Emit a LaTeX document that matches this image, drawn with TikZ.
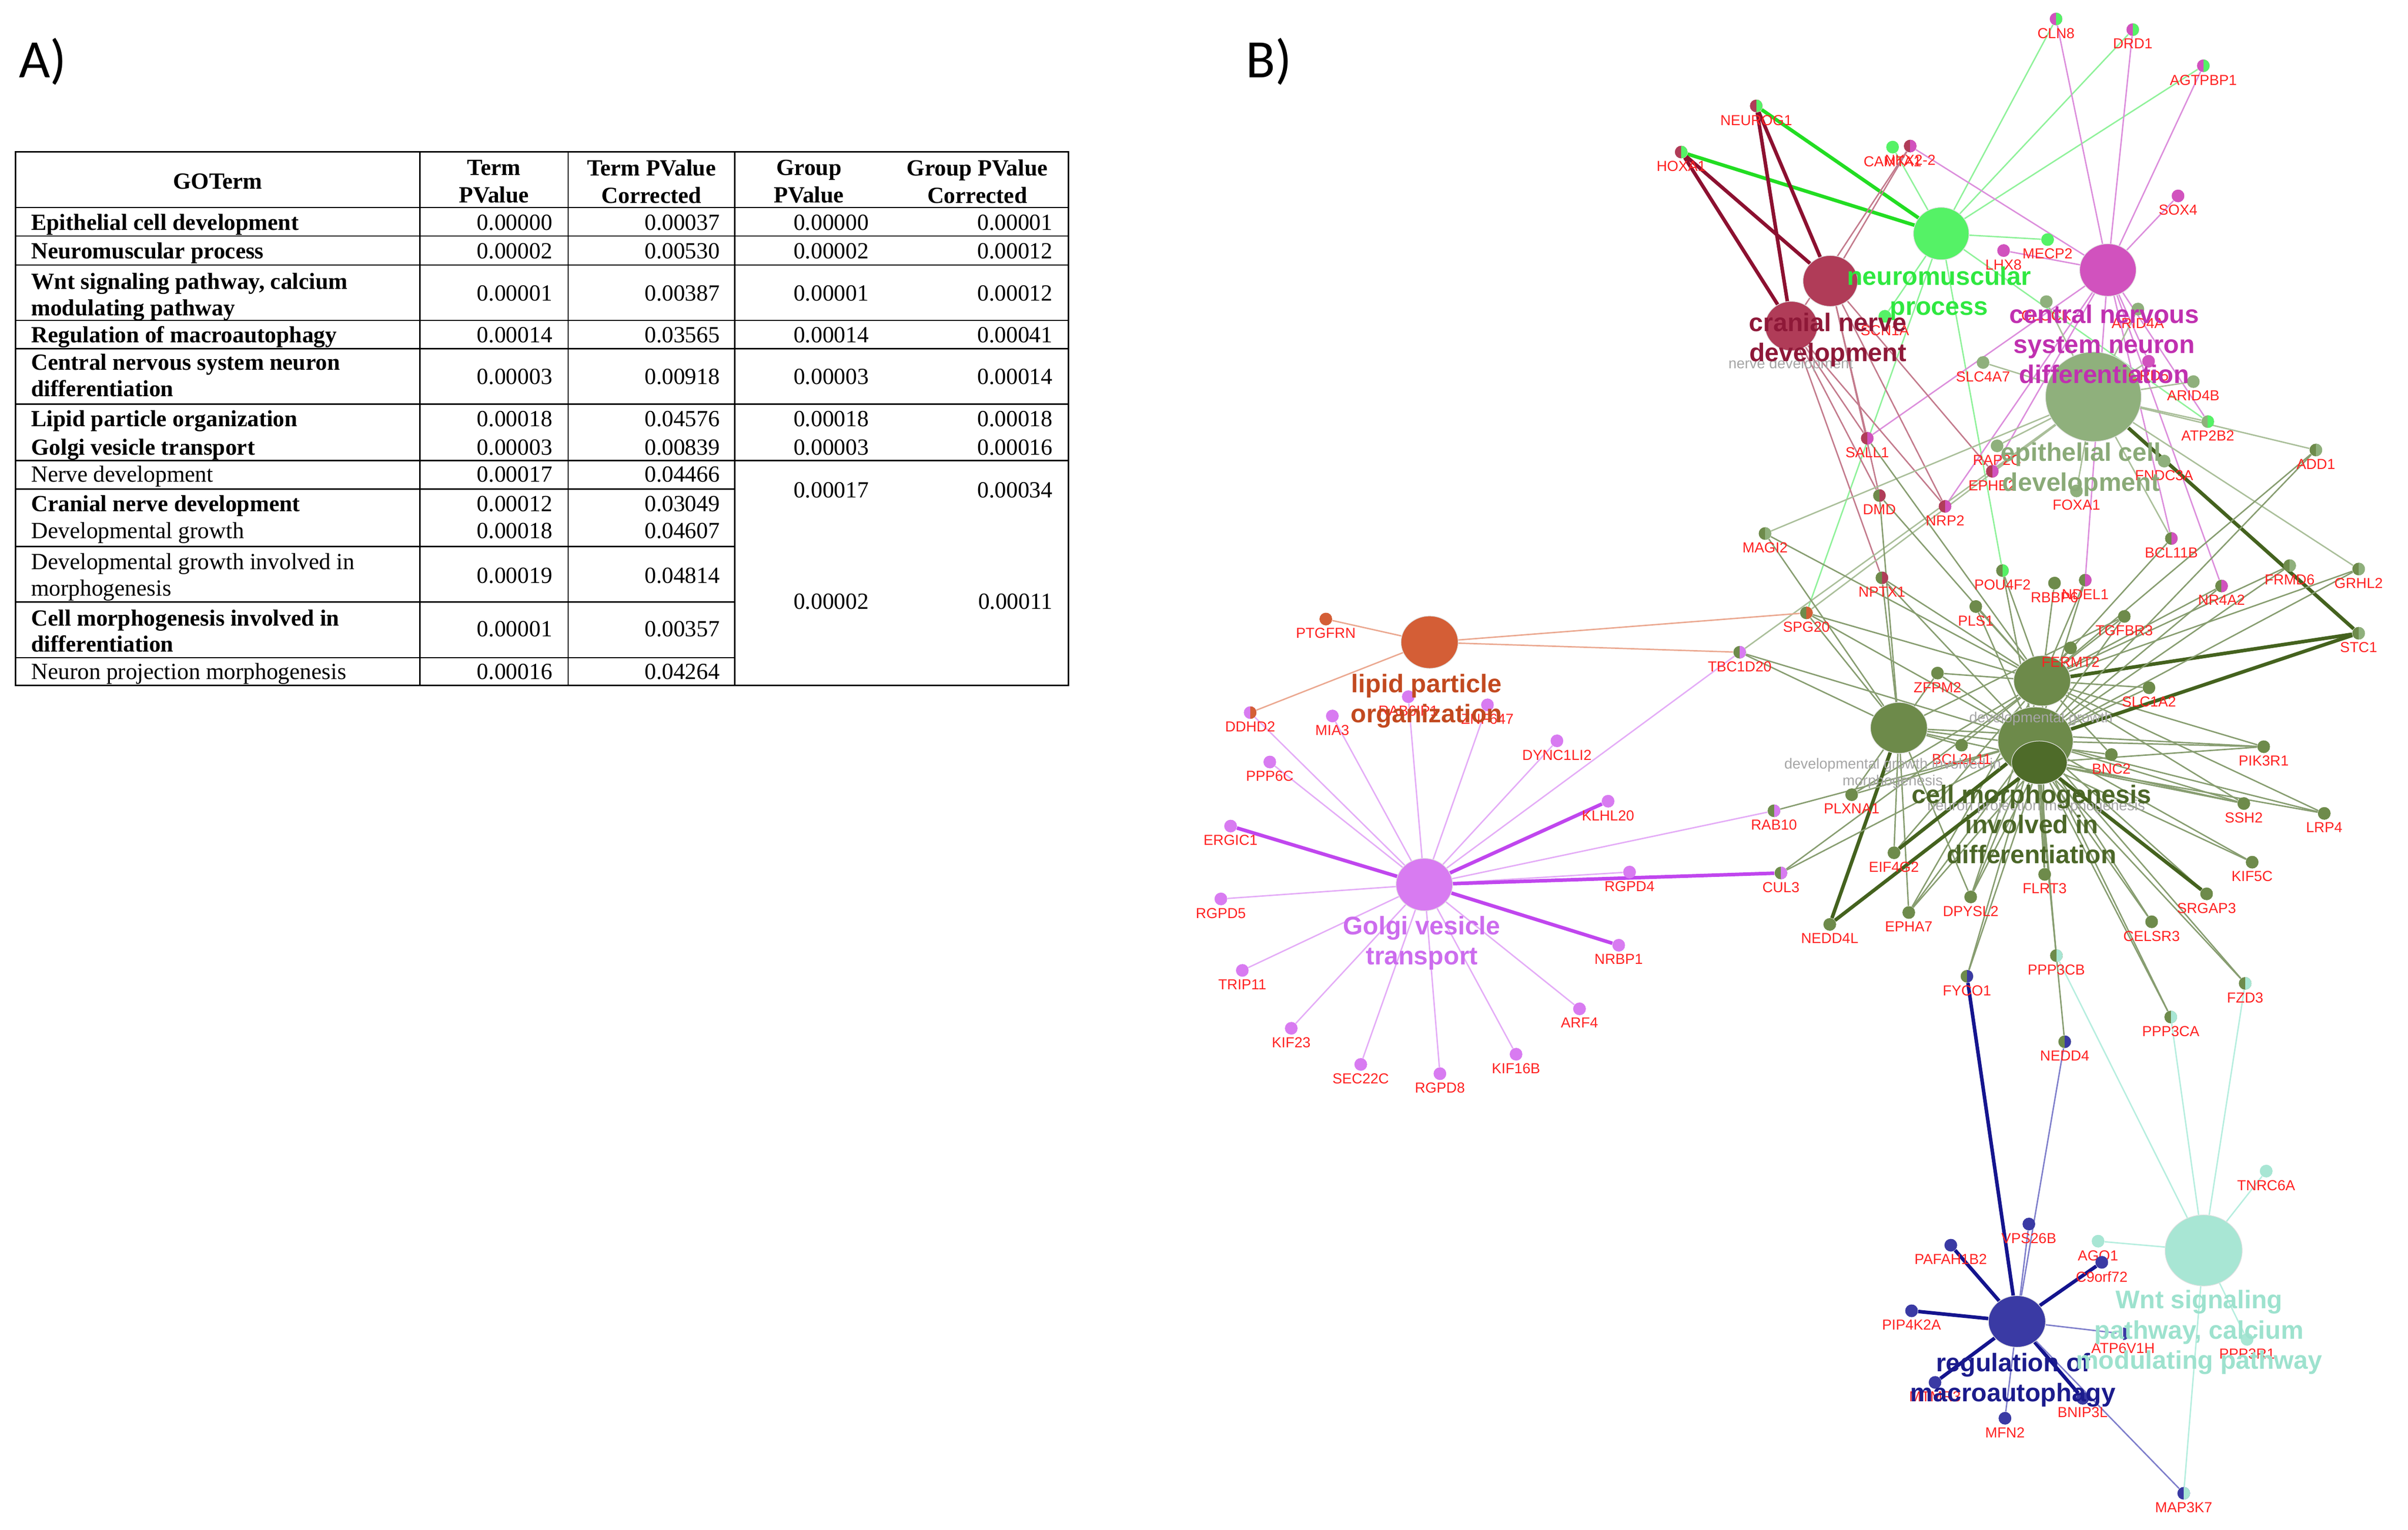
\documentclass[tikz,border=0pt]{standalone}
\usepackage{fontspec}
\setmainfont{Liberation Serif}
\newfontfamily\arial{Liberation Sans}
\newfontfamily\calib{Carlito}
\usetikzlibrary{shapes.geometric}
\pgfdeclarelayer{bg}
\pgfsetlayers{bg,main}
\definecolor{gred}{HTML}{FF2222}
\definecolor{cNM}{HTML}{55F266}
\definecolor{lNM}{HTML}{8FF29A}
\definecolor{tNM}{HTML}{2FE840}
\definecolor{kNM}{HTML}{22DD22}
\definecolor{cCN}{HTML}{D152BE}
\definecolor{lCN}{HTML}{DC8EDC}
\definecolor{tCN}{HTML}{C030B0}
\definecolor{cCR}{HTML}{B03C58}
\definecolor{lCR}{HTML}{C37A8C}
\definecolor{kCR}{HTML}{8C1030}
\definecolor{tCR}{HTML}{8E1838}
\definecolor{cEP}{HTML}{8FB07C}
\definecolor{lEP}{HTML}{AABF9A}
\definecolor{tEP}{HTML}{8AAA78}
\definecolor{cOL}{HTML}{6E8B4B}
\definecolor{lOL}{HTML}{879D70}
\definecolor{kOL}{HTML}{44621E}
\definecolor{cDG}{HTML}{6D8A4A}
\definecolor{cCM}{HTML}{4E6B29}
\definecolor{tCM}{HTML}{4B6627}
\definecolor{cLP}{HTML}{D45E36}
\definecolor{lLP}{HTML}{EBA890}
\definecolor{tLP}{HTML}{C2491F}
\definecolor{cGV}{HTML}{D87BF1}
\definecolor{lGV}{HTML}{E4ACF7}
\definecolor{kGV}{HTML}{C046EE}
\definecolor{tGV}{HTML}{CC6CEE}
\definecolor{cMA}{HTML}{3A3AA4}
\definecolor{lMA}{HTML}{7E7ECB}
\definecolor{kMA}{HTML}{14148E}
\definecolor{tMA}{HTML}{1B1B8C}
\definecolor{cWN}{HTML}{A8E6D4}
\definecolor{lWN}{HTML}{B6EEDF}
\definecolor{tWN}{HTML}{9DE2CE}
\definecolor{gtx}{HTML}{A6A6A6}
\tikzset{
 tt/.style={anchor=base west,inner sep=0pt,font=\fontsize{15}{17}\selectfont},
 ttb/.style={tt,font=\bfseries\fontsize{15}{17}\selectfont},
 tt2/.style={anchor=west,inner sep=0pt,align=left,font=\fontsize{15}{17}\selectfont},
 tt2b/.style={tt2,font=\bfseries\fontsize{15}{17}\selectfont},
 th/.style={anchor=center,inner sep=0pt,align=center,font=\bfseries\fontsize{15}{17.7}\selectfont},
 tn/.style={anchor=base east,inner sep=0pt,font=\fontsize{15}{17}\selectfont},
 tline/.style={line width=0.9pt,black},
 gnode/.style 2 args={circle,inner sep=0pt,minimum size=8.2pt,fill=#1,
   path picture={\fill[#2] (path picture bounding box.north) rectangle (path picture bounding box.south east);}},
 glab/.style={font=\arial\fontsize{9.4}{10}\selectfont,text=gred,inner sep=0.4pt},
 hub/.style={ellipse,inner sep=0pt,draw=black!12,line width=0.4pt},
 hl/.style={font=\arial\bfseries\fontsize{16.5}{19.5}\selectfont,align=center,inner sep=0pt},
 gl/.style={font=\arial\fontsize{9.5}{11}\selectfont,text=gtx,align=center,inner sep=0pt},
 e/.style={line width=0.9pt},
 ek/.style={line width=2.3pt},
 big/.style={font=\calib\fontsize{35}{40}\selectfont,anchor=west,inner sep=0pt}
}
\newcommand\gn[6]{\node[gnode={#4}{#5},label={[glab]below:#6}] (#1) at (#2,#3) {};}
\newcommand\tv[4]{\node[tn] (#1) at (#2,#3) {#4};}
\begin{document}
\begin{tikzpicture}[x=1pt,y=-1pt,label distance=1.0pt]
\begin{pgfonlayer}{bg}
\fill[white] (0,0) rectangle (1559.8,990.8);
\end{pgfonlayer}
\useasboundingbox (0,0) rectangle (1559.8,990.8);
\node[big] (LA) at (12,40) {A)};
\node[big] (LB) at (807,40) {B)};
% ---------------- table ----------------
\draw[tline] (10,98.4) rectangle (692,444);
\foreach \yy in {134.4,152.9,171.7,207.6,225.8,261.7,298.4} \draw[tline] (10,\yy) -- (692,\yy);
\foreach \yy in {316.7,354,390,426} \draw[tline] (10,\yy) -- (476,\yy);
\foreach \xx in {272,368,476} \draw[tline] (\xx,98.4) -- (\xx,444);
\node[th] (h0) at (141,117.6) {GOTerm};
\node[th] (h1) at (320,117.6) {Term\\PValue};
\node[th] (h2) at (422,117.6) {Term PValue\\Corrected};
\node[th] (h3) at (524,117.6) {Group\\PValue};
\node[th] (h4) at (633,117.6) {Group PValue\\Corrected};
\node[ttb] (g1) at (20,149.1) {Epithelial cell development};
\node[ttb] (g2) at (20,167.4) {Neuromuscular process};
\node[tt2b] (g3) at (20,192.4) {Wnt signaling pathway, calcium\\modulating pathway};
\node[ttb] (g4) at (20,222) {Regulation of macroautophagy};
\node[tt2b] (g5) at (20,243.1) {Central nervous system neuron\\differentiation};
\node[ttb] (g6) at (20,276.4) {Lipid particle organization};
\node[ttb] (g7) at (20,294.7) {Golgi vesicle transport};
\node[tt] (g8) at (20,312.3) {Nerve development};
\node[ttb] (g9) at (20,331.2) {Cranial nerve development};
\node[tt] (g10) at (20,348.8) {Developmental growth};
\node[tt2] (g11) at (20,373.8) {Developmental growth involved in\\morphogenesis};
\node[tt2b] (g12) at (20,408.7) {Cell morphogenesis involved in\\differentiation};
\node[tt] (g13) at (20,440) {Neuron projection morphogenesis};
% values
\tv{a1}{358}{149.1}{0.00000}\tv{b1}{466.5}{149.1}{0.00037}\tv{c1}{563}{149.1}{0.00000}\tv{d1}{682}{149.1}{0.00001}
\tv{a2}{358}{167.4}{0.00002}\tv{b2}{466.5}{167.4}{0.00530}\tv{c2}{563}{167.4}{0.00002}\tv{d2}{682}{167.4}{0.00012}
\tv{a3}{358}{195}{0.00001}\tv{b3}{466.5}{195}{0.00387}\tv{c3}{563}{195}{0.00001}\tv{d3}{682}{195}{0.00012}
\tv{a4}{358}{222}{0.00014}\tv{b4}{466.5}{222}{0.03565}\tv{c4}{563}{222}{0.00014}\tv{d4}{682}{222}{0.00041}
\tv{a5}{358}{249}{0.00003}\tv{b5}{466.5}{249}{0.00918}\tv{c5}{563}{249}{0.00003}\tv{d5}{682}{249}{0.00014}
\tv{a6}{358}{276.4}{0.00018}\tv{b6}{466.5}{276.4}{0.04576}\tv{c6}{563}{276.4}{0.00018}\tv{d6}{682}{276.4}{0.00018}
\tv{a7}{358}{294.7}{0.00003}\tv{b7}{466.5}{294.7}{0.00839}\tv{c7}{563}{294.7}{0.00003}\tv{d7}{682}{294.7}{0.00016}
\tv{a8}{358}{312.3}{0.00017}\tv{b8}{466.5}{312.3}{0.04466}
\tv{a9}{358}{331.2}{0.00012}\tv{b9}{466.5}{331.2}{0.03049}
\tv{a10}{358}{348.8}{0.00018}\tv{b10}{466.5}{348.8}{0.04607}
\tv{a11}{358}{377.6}{0.00019}\tv{b11}{466.5}{377.6}{0.04814}
\tv{a12}{358}{412.3}{0.00001}\tv{b12}{466.5}{412.3}{0.00357}
\tv{a13}{358}{440}{0.00016}\tv{b13}{466.5}{440}{0.04264}
\tv{c8}{563}{322.3}{0.00017}\tv{d8}{682}{322.3}{0.00034}
\tv{c11}{563}{394.6}{0.00002}\tv{d11}{682}{394.6}{0.00011}
% ---------------- network hubs ----------------
\node[hub,fill=cNM,minimum width=36pt,minimum height=34pt] (NMP) at (1257.4,151.3) {};
\node[hub,fill=cCN,minimum width=36.6pt,minimum height=34pt] (CNS) at (1365.4,174.9) {};
\node[hub,fill=cCR,minimum width=35.4pt,minimum height=33pt] (CRN) at (1185.6,182) {};
\node[hub,fill=cCR,minimum width=34pt,minimum height=32pt] (NRV) at (1160.3,211.2) {};
\node[hub,fill=cEP,minimum width=62pt,minimum height=58pt] (EPI) at (1356,257) {};
\node[hub,fill=cDG,minimum width=48.6pt,minimum height=44pt] (NPM) at (1318.5,480) {};
\node[hub,fill=cDG,minimum width=36.8pt,minimum height=32.6pt] (DG) at (1322.8,441) {};
\node[hub,fill=cDG,minimum width=36.8pt,minimum height=33pt] (DGM) at (1230,471.5) {};
\node[hub,fill=cCM,minimum width=36pt,minimum height=28pt] (CMD) at (1321,494) {};
\node[hub,fill=cLP,minimum width=37pt,minimum height=34pt] (LIP) at (926,416) {};
\node[hub,fill=cGV,minimum width=36.6pt,minimum height=34pt] (GOL) at (922.6,573) {};
\node[hub,fill=cMA,minimum width=37pt,minimum height=33.4pt] (MAC) at (1306.5,856) {};
\node[hub,fill=cWN,minimum width=50pt,minimum height=46pt] (WNT) at (1427.4,810) {};
% ---------------- genes ----------------
\gn{CLN8}{1331.8}{12.3}{cCN}{cNM}{CLN8}
\gn{DRD1}{1381.5}{19.2}{cCN}{cNM}{DRD1}
\gn{AGTPBP1}{1427.2}{42.6}{cCN}{cNM}{AGTPBP1}
\gn{NEUROG1}{1137.6}{68.6}{cCR}{cNM}{NEUROG1}
\gn{HOXA1}{1089}{98.5}{cCR}{cNM}{HOXA1}
\gn{CAMTA1}{1225.9}{95.3}{cNM}{cNM}{CAMTA1}
\gn{NKX22}{1237.3}{94.6}{cCR}{cCN}{NKX2-2}
\gn{SOX4}{1410.8}{126.9}{cCN}{cCN}{SOX4}
\gn{MECP2}{1326.3}{155.2}{cNM}{cNM}{MECP2}
\gn{LHX8}{1297.8}{162.3}{cCN}{cCN}{LHX8}
\gn{SCN1A}{1220.9}{204.9}{cNM}{cNM}{SCN1A}
\gn{CLOCK}{1325.5}{195.4}{cEP}{cEP}{CLOCK}
\gn{ARID4A}{1384.8}{200.2}{cEP}{cEP}{ARID4A}
\gn{SLC4A7}{1284.5}{234.8}{cEP}{cEP}{SLC4A7}
\gn{RDfive}{1391.7}{234}{cCN}{cCN}{ORD5}
\gn{ARID4B}{1420.7}{247.2}{cEP}{cEP}{ARID4B}
\gn{ATP2B2}{1430.1}{273.1}{cEP}{cNM}{ATP2B2}
\gn{ADD1}{1500.1}{291.5}{cOL}{cEP}{ADD1}
\gn{RAP2C}{1293.6}{288.8}{cEP}{cEP}{RAP2C}
\gn{EPHB2}{1290.5}{305.3}{cCR}{cCN}{EPHB2}
\gn{FNDC3A}{1401.8}{298.7}{cEP}{cEP}{FNDC3A}
\gn{FOXA1}{1345}{318}{cEP}{cEP}{FOXA1}
\gn{SALL1}{1209.5}{283.9}{cCR}{cCN}{SALL1}
\gn{DMD}{1217.4}{321}{cOL}{cCR}{DMD}
\gn{NRP2}{1259.9}{328}{cCR}{cCN}{NRP2}
\gn{MAGI2}{1143.3}{345.6}{cOL}{cEP}{MAGI2}
\gn{BCL11B}{1406.5}{348.8}{cOL}{cCN}{BCL11B}
\gn{FRMD6}{1483.1}{366.4}{cOL}{cEP}{FRMD6}
\gn{GRHL2}{1527.8}{368.6}{cOL}{cEP}{GRHL2}
\gn{NPTX1}{1219}{374.3}{cOL}{cCR}{NPTX1}
\gn{POU4F2}{1297.1}{369.6}{cOL}{cNM}{POU4F2}
\gn{RBBP6}{1330.8}{377.7}{cOL}{cOL}{RBBP6}
\gn{NDEL1}{1350.7}{375.8}{cOL}{cCN}{NDEL1}
\gn{NR4A2}{1439}{379.6}{cOL}{cCN}{NR4A2}
\gn{PLS1}{1279.8}{392.9}{cOL}{cOL}{PLS1}
\gn{TGFBR3}{1376}{399.3}{cOL}{cOL}{TGFBR3}
\gn{SPG20}{1170.1}{397}{cOL}{cLP}{SPG20}
\gn{STC1}{1527.8}{410.2}{cOL}{cEP}{STC1}
\gn{TBC1D20}{1126.9}{422.5}{cOL}{cGV}{TBC1D20}
\gn{FERMT2}{1341.2}{419.7}{cOL}{cOL}{FERMT2}
\gn{ZFPM2}{1255}{436}{cOL}{cOL}{ZFPM2}
\gn{SLC1A2}{1392}{445.5}{cOL}{cOL}{SLC1A2}
\gn{BCL2L11}{1270.6}{482.7}{cOL}{cOL}{BCL2L11}
\gn{BNC2}{1367.6}{488.8}{cOL}{cOL}{BNC2}
\gn{PIK3R1}{1466.3}{483.7}{cOL}{cOL}{PIK3R1}
\gn{PLXNA1}{1199.4}{514.8}{cOL}{cOL}{PLXNA1}
\gn{RAB10}{1149.1}{525.2}{cOL}{cGV}{RAB10}
\gn{SSH2}{1453.4}{520.5}{cOL}{cOL}{SSH2}
\gn{LRP4}{1505.5}{526.9}{cOL}{cOL}{LRP4}
\gn{EIF4G2}{1226.8}{552.4}{cOL}{cOL}{EIF4G2}
\gn{KIF5C}{1458.8}{558.5}{cOL}{cOL}{KIF5C}
\gn{CUL3}{1153.6}{565.5}{cOL}{cGV}{CUL3}
\gn{FLRT3}{1324.4}{566.4}{cOL}{cOL}{FLRT3}
\gn{DPYSL2}{1276.5}{581}{cOL}{cOL}{DPYSL2}
\gn{SRGAP3}{1429.3}{579}{cOL}{cOL}{SRGAP3}
\gn{EPHA7}{1236.4}{591.1}{cOL}{cOL}{EPHA7}
\gn{NEDD4L}{1185.2}{598.8}{cOL}{cOL}{NEDD4L}
\gn{CELSR3}{1393.7}{597.1}{cOL}{cOL}{CELSR3}
\gn{PPP3CB}{1332}{619}{cOL}{cWN}{PPP3CB}
\gn{FYCO1}{1274.1}{632.4}{cOL}{cMA}{FYCO1}
\gn{FZD3}{1454.3}{637}{cOL}{cWN}{FZD3}
\gn{PPP3CA}{1406.1}{658.8}{cOL}{cWN}{PPP3CA}
\gn{NEDD4}{1337.4}{674.8}{cOL}{cMA}{NEDD4}
% golgi / lipid
\gn{PTGFRN}{858.8}{401}{cLP}{cLP}{PTGFRN}
\gn{DDHD2}{809.8}{461.6}{cGV}{cLP}{DDHD2}
\gn{MIA3}{863}{463.8}{cGV}{cGV}{MIA3}
\gn{RABsix}{912.2}{451.3}{cGV}{cGV}{RAB6IP1}
\gn{ZNFx}{963.5}{456.6}{cGV}{cGV}{ZNF647}
\gn{DYNC1LI2}{1008.5}{479.9}{cGV}{cGV}{DYNC1LI2}
\gn{PPP6C}{822.5}{493.6}{cGV}{cGV}{PPP6C}
\gn{KLHL20}{1041.6}{519}{cGV}{cGV}{KLHL20}
\gn{ERGIC1}{797.1}{535.1}{cGV}{cGV}{ERGIC1}
\gn{RGPD4}{1055.5}{564.9}{cGV}{cGV}{RGPD4}
\gn{RGPD5}{790.8}{582.3}{cGV}{cGV}{RGPD5}
\gn{NRBP1}{1048.5}{612.3}{cGV}{cGV}{NRBP1}
\gn{TRIP11}{804.7}{628.6}{cGV}{cGV}{TRIP11}
\gn{ARF4}{1023.1}{653.5}{cGV}{cGV}{ARF4}
\gn{KIF23}{836.4}{666.1}{cGV}{cGV}{KIF23}
\gn{KIF16B}{982}{682.9}{cGV}{cGV}{KIF16B}
\gn{SEC22C}{881.4}{689.5}{cGV}{cGV}{SEC22C}
\gn{RGPD8}{932.7}{695.5}{cGV}{cGV}{RGPD8}
% autophagy / wnt
\gn{TNRC6A}{1467.9}{758.6}{cWN}{cWN}{TNRC6A}
\gn{VPS26B}{1314.2}{792.9}{cMA}{cMA}{VPS26B}
\gn{PAFAH1B2}{1263.6}{806.6}{cMA}{cMA}{PAFAH1B2}
\gn{AGO1}{1359}{804}{cWN}{cWN}{AGO1}
\gn{C9orf72}{1361.4}{817.7}{cMA}{cMA}{C9orf72}
\gn{PIP4K2A}{1238.2}{849.1}{cMA}{cMA}{PIP4K2A}
\gn{ATP6V1H}{1375.2}{864}{white}{cMA}{ATP6V1H}
\gn{PPP3R1}{1455.5}{867.6}{cWN}{cWN}{PPP3R1}
\gn{MTMR3}{1253.4}{895.5}{cMA}{cMA}{MTMR3}
\gn{BNIP3L}{1349}{905.8}{cMA}{cMA}{BNIP3L}
\gn{MFN2}{1298.7}{918.7}{cMA}{cMA}{MFN2}
\gn{MAP3K7}{1414.5}{967.3}{cMA}{cWN}{MAP3K7}
% ---------------- edges ----------------
\begin{pgfonlayer}{bg}
\foreach \g in {CLN8,DRD1,AGTPBP1,CAMTA1,MECP2,SCN1A,SPG20,POU4F2,ATP2B2} \draw[e,lNM] (NMP) -- (\g);
\foreach \g in {NEUROG1,HOXA1} \draw[ek,kNM] (NMP) -- (\g);
\foreach \g in {CLN8,DRD1,AGTPBP1,SOX4,LHX8,NKX22,SALL1,NRP2,EPHB2,RDfive,ATP2B2,NDEL1,BCL11B,NR4A2} \draw[e,lCN] (CNS) -- (\g);
\foreach \h in {CRN,NRV} {\draw[ek,kCR] (\h) -- (NEUROG1); \draw[ek,kCR] (\h) -- (HOXA1); \draw[e,lCR] (\h) -- (NKX22);}
\foreach \g in {SALL1,NRP2,EPHB2,DMD} \draw[e,lCR] (CRN) -- (\g);
\foreach \g in {SALL1,DMD,NPTX1,NRP2} \draw[e,lCR] (NRV) -- (\g);
\foreach \g in {SLC4A7,CLOCK,ARID4A,ARID4B,ATP2B2,ADD1,RAP2C,FNDC3A,FOXA1,BCL11B,GRHL2,MAGI2,SPG20,TBC1D20,EPHB2,RDfive} \draw[e,lEP] (EPI) -- (\g);
\draw[ek,kOL] (EPI) -- (STC1);
\foreach \g in {FERMT2,TGFBR3,PLS1,ZFPM2,SLC1A2,BNC2,RBBP6,NDEL1,POU4F2,NPTX1,DMD,MAGI2,SPG20,NR4A2,FRMD6,GRHL2,BCL11B,ADD1,PIK3R1,SSH2,LRP4,FLRT3,DPYSL2,EPHA7,PLXNA1,BCL2L11,SALL1,EIF4G2,CUL3} \draw[e,lOL] (DG) -- (\g);
\draw[ek,kOL] (DG) -- (STC1);
\foreach \g in {MAGI2,SPG20,TBC1D20,NPTX1,ZFPM2,PLXNA1,EIF4G2,EPHA7,DPYSL2,BCL2L11,BNC2,PIK3R1,SSH2,DMD,TGFBR3} \draw[e,lOL] (DGM) -- (\g);
\draw[ek,kOL] (DGM) -- (NEDD4L);
\foreach \g in {CUL3,RAB10,PLXNA1,DPYSL2,FLRT3,PPP3CB,FYCO1,CELSR3,SRGAP3,KIF5C,LRP4,SSH2,PIK3R1,FZD3,PPP3CA,NEDD4,SLC1A2,TGFBR3,NR4A2,GRHL2,FRMD6,SPG20,TBC1D20,NPTX1,PLS1,POU4F2,NDEL1,ZFPM2,EPHA7,ADD1} \draw[e,lOL] (NPM) -- (\g);
\foreach \g in {STC1,EIF4G2} \draw[ek,kOL] (NPM) -- (\g);
\foreach \g in {FLRT3,EPHA7,DPYSL2,FYCO1,PPP3CB,PPP3CA,CELSR3,FZD3,KIF5C,LRP4,SSH2,PIK3R1} \draw[e,lOL] (CMD) -- (\g);
\foreach \g in {SRGAP3,NEDD4L} \draw[ek,kOL] (CMD) -- (\g);
\foreach \g in {PTGFRN,DDHD2,SPG20,TBC1D20} \draw[e,lLP] (LIP) -- (\g);
\foreach \g in {DDHD2,MIA3,RABsix,ZNFx,DYNC1LI2,PPP6C,TRIP11,RGPD5,RGPD4,ARF4,KIF23,KIF16B,SEC22C,RGPD8,TBC1D20,RAB10} \draw[e,lGV] (GOL) -- (\g);
\foreach \g in {ERGIC1,KLHL20,NRBP1,CUL3} \draw[ek,kGV] (GOL) -- (\g);
\foreach \g in {PAFAH1B2,PIP4K2A,C9orf72,MTMR3,BNIP3L,FYCO1} \draw[ek,kMA] (MAC) -- (\g);
\foreach \g in {NEDD4,VPS26B,MFN2,ATP6V1H,MAP3K7} \draw[e,lMA] (MAC) -- (\g);
\foreach \g in {PPP3CB,PPP3CA,FZD3,TNRC6A,AGO1,PPP3R1,MAP3K7} \draw[e,lWN] (WNT) -- (\g);
\end{pgfonlayer}
% ---------------- hub labels ----------------
\node[hl,text=tNM] (NMPl) at (1256,190) {neuromuscular\\process};
\node[gl] (NRVl) at (1160,236.4) {nerve development};
\node[hl,text=tCR] (CRNl) at (1184,220) {cranial nerve\\development};
\node[hl,text=tCN] (CNSl) at (1363,223) {central nervous\\system neuron\\differentiation};
\node[hl,text=tEP] (EPIl) at (1348,304) {epithelial cell\\development};
\node[hl,text=tLP] (LIPl) at (924,454) {lipid particle\\organization};
\node[hl,text=tGV] (GOLl) at (921,611) {Golgi vesicle\\transport};
\node[gl] (DGl) at (1322,465.6) {developmental growth};
\node[gl] (DGMl) at (1226,501) {developmental growth involved in\\morphogenesis};
\node[gl] (NPMl) at (1319,522.7) {neuron projection morphogenesis};
\node[hl,text=tCM] (CMDl) at (1316,534) {cell morphogenesis\\involved in\\differentiation};
\node[hl,text=tMA] (MACl) at (1304,894) {regulation of\\macroautophagy};
\node[hl,text=tWN] (WNTl) at (1424.5,863) {Wnt signaling\\pathway, calcium\\modulating pathway};
\end{tikzpicture}
\end{document}
